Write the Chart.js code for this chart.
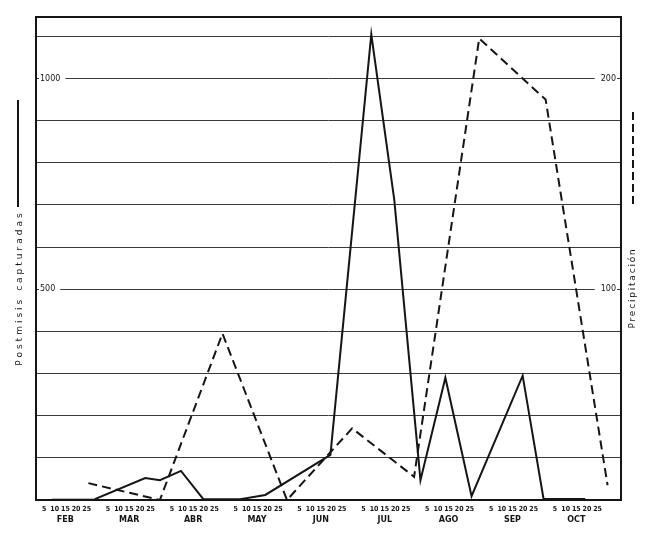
<!DOCTYPE html>
<html>
<head>
<meta charset="utf-8">
<script src="https://cdn.jsdelivr.net/npm/chart.js@4.4.1/dist/chart.umd.min.js"></script>
<style>
html, body { margin: 0; padding: 0; background: #fff; }
#wrap { width: 650px; height: 536px; }
</style>
</head>
<body>
<div id="wrap"><canvas id="chart" width="650" height="536"></canvas></div>
<script>
// months along the bottom, day marks under each month
const meses = ['FEB', 'MAR', 'ABR', 'MAY', 'JUN', 'JUL', 'AGO', 'SEP', 'OCT'];
const dias = [5, 10, 15, 20, 25];

// x position = months counted from 1 Feb (0 = FEB 1, 1 = MAR 1, ...)
const capturasPos = [0.29, 0.96, 1.75, 1.98, 2.31, 2.66, 3.24, 3.63, 4.65, 5.29, 5.65, 6.06, 6.45, 6.86, 7.66, 7.99, 8.64];
const capturas = [2, 2, 52, 47, 69, 2, 2, 12, 107, 1105, 712, 47, 290, 9, 295, 0, 0];

const lluviaPos = [0.86, 1.98, 2.96, 3.97, 4.99, 5.96, 6.98, 8.02, 8.99];
const lluvia = [8, 0, 79, 0, 34, 11, 219, 190, 7];

// labelled ticks on each side
const capturasTicks = [500, 1000];
const lluviaTicks = [100, 200];

const ink = '#151515';

/**
 * Frame, rotated axis titles and the little line samples beside them
 */
const marcoPlugin = {
    id: 'marco',
    afterDraw(chart) {
        const { ctx, chartArea: a } = chart;
        ctx.save();
        ctx.strokeStyle = ink;
        ctx.lineWidth = 2;
        ctx.strokeRect(a.left, a.top, a.right - a.left, a.bottom - a.top);

        // line samples
        ctx.beginPath();
        ctx.moveTo(18, 100);
        ctx.lineTo(18, 207);
        ctx.stroke();
        ctx.setLineDash([8, 4]);
        ctx.beginPath();
        ctx.moveTo(633, 112);
        ctx.lineTo(633, 207);
        ctx.stroke();
        ctx.setLineDash([]);

        // titles, both read bottom to top
        ctx.fillStyle = ink;
        ctx.textAlign = 'center';
        ctx.textBaseline = 'middle';
        ctx.font = '9px "DejaVu Sans"';
        ctx.letterSpacing = '3px';
        ctx.save();
        ctx.translate(20, 288);
        ctx.rotate(-Math.PI / 2);
        ctx.fillText('Postmisis capturadas', 0, 0);
        ctx.restore();
        ctx.letterSpacing = '1.8px';
        ctx.save();
        ctx.translate(633, 288);
        ctx.rotate(-Math.PI / 2);
        ctx.fillText('Precipitación', 0, 0);
        ctx.restore();
        ctx.restore();
    }
};

const dayTicks = [];
meses.forEach((m, i) => dias.forEach(d => dayTicks.push({ value: i + d / 30, label: String(d) })));
const monthTicks = meses.map((m, i) => ({ value: i + 0.5, label: m }));

const xMin = 0.04;
const xMax = 9.2;

new Chart(document.getElementById('chart'), {
    type: 'scatter',
    data: {
        datasets: [{
            label: 'Postmisis capturadas',
            data: capturasPos.map((x, i) => ({ x: x, y: capturas[i] })),
            yAxisID: 'y',
            xAxisID: 'x',
            showLine: true,
            borderColor: ink,
            borderWidth: 2,
            pointRadius: 0,
            tension: 0,
            segment: {
                borderWidth: ctx => ctx.p0DataIndex === capturas.length - 2 ? 4 : (ctx.p0DataIndex === 0 ? 1.5 : 2),
                borderColor: ctx => ctx.p0DataIndex === 0 ? '#777' : ink
            }
        }, {
            label: 'Precipitación',
            data: lluviaPos.map((x, i) => ({ x: x, y: lluvia[i] })),
            yAxisID: 'y2',
            xAxisID: 'x',
            showLine: true,
            borderColor: ink,
            borderWidth: 2,
            borderDash: [9, 5],
            pointRadius: 0,
            tension: 0
        }]
    },
    options: {
        responsive: false,
        animation: false,
        layout: { padding: { top: 17, left: 0, right: 0, bottom: 0 } },
        plugins: {
            legend: { display: false },
            tooltip: { enabled: false }
        },
        scales: {
            x: {
                type: 'linear',
                position: 'bottom',
                min: xMin,
                max: xMax,
                weight: 0,
                grid: { display: false, drawTicks: false },
                border: { display: false },
                afterBuildTicks: scale => { scale.ticks = dayTicks.map(t => ({ value: t.value })); },
                afterFit: scale => { scale.height = 13; },
                ticks: {
                    autoSkip: false,
                    maxRotation: 0,
                    padding: 5,
                    color: ink,
                    font: { family: '"DejaVu Sans Condensed", "DejaVu Sans"', size: 7, weight: 'bold' },
                    callback: (v, i) => dayTicks[i] ? dayTicks[i].label : ''
                }
            },
            x2: {
                type: 'linear',
                position: 'bottom',
                min: xMin,
                max: xMax,
                weight: 1,
                grid: { display: false, drawTicks: false },
                border: { display: false },
                afterBuildTicks: scale => { scale.ticks = monthTicks.map(t => ({ value: t.value })); },
                afterFit: scale => { scale.height = 23; },
                ticks: {
                    autoSkip: false,
                    maxRotation: 0,
                    padding: 2,
                    color: ink,
                    font: { family: 'DejaVu Sans', size: 8, weight: 'bold' },
                    callback: (v, i) => monthTicks[i] ? monthTicks[i].label : ''
                }
            },
            y: {
                position: 'left',
                min: 0,
                max: 1146,
                afterFit: scale => { scale.width = 36; },
                grid: { color: '#3a3a3a', lineWidth: 1, drawTicks: false, z: -1 },
                border: { display: false },
                ticks: {
                    stepSize: 100,
                    includeBounds: false,
                    mirror: true,
                    padding: 4,
                    z: 1,
                    color: ink,
                    font: { family: 'DejaVu Sans', size: 8 },
                    showLabelBackdrop: ctx => capturasTicks.includes(ctx.tick.value),
                    backdropColor: '#fff',
                    backdropPadding: { top: 0, bottom: 0, left: 1, right: 5 },
                    callback: v => capturasTicks.includes(v) ? String(v) : ''
                }
            },
            y2: {
                position: 'right',
                min: 0,
                max: 229.2,
                afterFit: scale => { scale.width = 29; },
                grid: { display: false, drawTicks: false },
                border: { display: false },
                ticks: {
                    stepSize: 20,
                    includeBounds: false,
                    mirror: true,
                    padding: -5,
                    z: 1,
                    color: ink,
                    font: { family: 'DejaVu Sans', size: 8 },
                    showLabelBackdrop: ctx => lluviaTicks.includes(ctx.tick.value),
                    backdropColor: '#fff',
                    backdropPadding: { top: 0, bottom: 0, left: 6, right: 1 },
                    callback: v => lluviaTicks.includes(v) ? String(v) : ''
                }
            }
        }
    },
    plugins: [marcoPlugin]
});
</script>
</body>
</html>
